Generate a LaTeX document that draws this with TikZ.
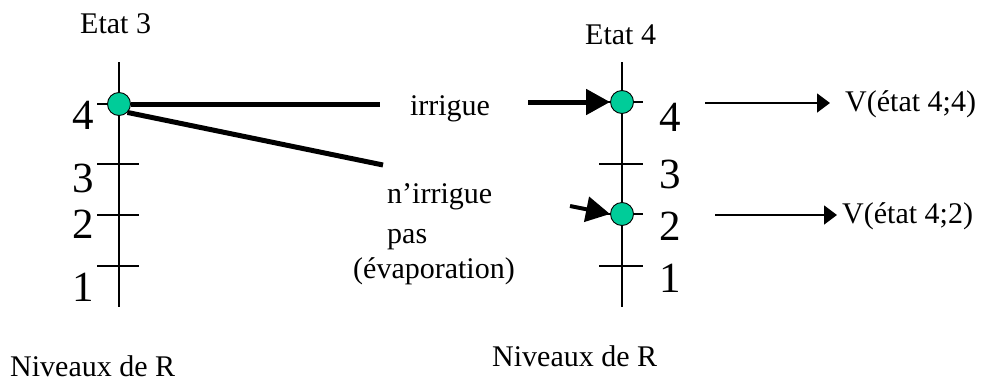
\documentclass[tikz,border=0pt]{standalone}
\usepackage{fontspec}
\setmainfont{Liberation Serif}
\usetikzlibrary{arrows.meta}
\begin{document}
\begin{tikzpicture}[x=1pt,y=-1pt,
  axis/.style={line width=1.3pt},
  tickmark/.style={line width=1.1pt},
  dot/.style={circle,draw=black,line width=0.9pt,minimum size=23pt,inner sep=0pt},
  txt/.style={inner sep=0pt,font=\fontsize{30}{34}\selectfont},
  digit/.style={inner sep=0pt,font=\fontsize{43}{48}\selectfont},
  thick line/.style={line width=5pt},
  bigarrow/.style={line width=5pt,-{Triangle[length=24pt,width=25pt]}},
  thinarrow/.style={line width=1.5pt,-{Triangle[length=13pt,width=19pt]}}
]
\useasboundingbox (0,0) rectangle (984,383);
\definecolor{dotgreen}{RGB}{0,204,153}
% left axis
\coordinate (l3top) at (119,62);
\coordinate (l3bot) at (119,307);
\draw[axis] (l3top) -- (l3bot);
\coordinate (lt4a) at (97,104); \coordinate (lt4b) at (139,104);
\coordinate (lt3a) at (97,164); \coordinate (lt3b) at (139,164);
\coordinate (lt2a) at (97,215); \coordinate (lt2b) at (139,215);
\coordinate (lt1a) at (97,266); \coordinate (lt1b) at (139,266);
\draw[tickmark] (lt4a) -- (lt4b);
\draw[tickmark] (lt3a) -- (lt3b);
\draw[tickmark] (lt2a) -- (lt2b);
\draw[tickmark] (lt1a) -- (lt1b);
\node[digit] (l4) at (83,115) {4};
\node[digit] (l3) at (83,178) {3};
\node[digit] (l2) at (83,224) {2};
\node[digit] (l1) at (83,287) {1};
% right axis
\coordinate (r4top) at (622,62);
\coordinate (r4bot) at (622,307);
\draw[axis] (r4top) -- (r4bot);
\coordinate (rt4a) at (601,102); \coordinate (rt4b) at (643,102);
\coordinate (rt3a) at (599,164); \coordinate (rt3b) at (643,164);
\coordinate (rt2a) at (601,214); \coordinate (rt2b) at (643,214);
\coordinate (rt1a) at (599,266); \coordinate (rt1b) at (643,266);
\draw[tickmark] (rt4a) -- (rt4b);
\draw[tickmark] (rt3a) -- (rt3b);
\draw[tickmark] (rt2a) -- (rt2b);
\draw[tickmark] (rt1a) -- (rt1b);
\node[digit] (r4) at (670,117) {4};
\node[digit] (r3) at (670,174) {3};
\node[digit] (r2) at (670,226) {2};
\node[digit] (r1) at (670,278) {1};
% titles
\node[txt,anchor=base west] (e3) at (80,33) {Etat 3};
\node[txt,anchor=base west] (e4) at (585,44) {Etat 4};
\node[txt,anchor=base west] (n3) at (10,376) {Niveaux de R};
\node[txt,anchor=base west] (n4) at (492,366) {Niveaux de R};
% transitions
\coordinate (hend) at (380,104);
\coordinate (dend) at (383,165);
\coordinate (astart) at (528,102);
\coordinate (bstart) at (570,206);
\node[txt,anchor=base] (irr) at (450,115) {irrigue};
\node[txt,anchor=base west] (nirr) at (387,203) {n’irrigue};
\node[txt,anchor=base west] (pas) at (387,243) {pas};
\node[txt,anchor=base west] (evap) at (353,278) {(évaporation)};
% dots
\node[dot,fill=dotgreen] (c3) at (119,104) {};
\node[dot,fill=dotgreen] (c44) at (622,102) {};
\node[dot,fill=dotgreen] (c42) at (622,214) {};
\draw[thick line] (c3.east) -- (hend);
\draw[thick line] (c3.south east) -- (dend);
\draw[bigarrow] (astart) -- (c44.west);
\draw[bigarrow,line width=4pt] (bstart) -- (c42.west);
% values
\node[txt,anchor=base west] (v44) at (845,111) {V(état 4;4)};
\node[txt,anchor=base west] (v42) at (842,223) {V(état 4;2)};
\coordinate (a44) at (705,103);
\coordinate (a42) at (715,215);
\coordinate (a44e) at (830,103);
\coordinate (a42e) at (837,215);
\draw[thinarrow] (a44) -- (a44e);
\draw[thinarrow] (a42) -- (a42e);
\end{tikzpicture}
\end{document}
